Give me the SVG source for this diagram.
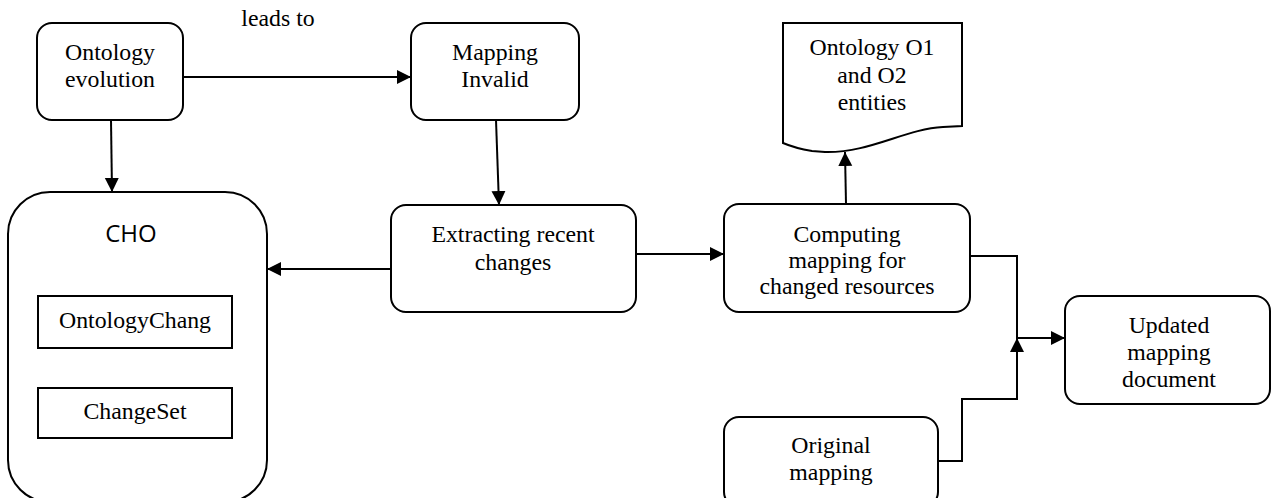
<svg xmlns="http://www.w3.org/2000/svg" width="1271" height="498" viewBox="0 0 1271 498">
<defs>
<style>
.box{fill:#fff;stroke:#000;stroke-width:2}
.t{font-family:"Liberation Serif","Times New Roman",serif;font-size:23.8px;fill:#000;text-anchor:middle}
.s{font-family:"Open Sans","Liberation Sans",sans-serif;font-size:24px;fill:#000;text-anchor:middle}
.c{fill:none;stroke:#000;stroke-width:2}
</style>
<marker id="ah" markerWidth="15" markerHeight="15" refX="14" refY="7.5" orient="auto" markerUnits="userSpaceOnUse"><path d="M0,0.5 L14,7.5 L0,14.5 z" fill="#000"/></marker>
</defs>
<rect width="1271" height="498" fill="#fff"/>

<g id="connectors">
<path class="c" d="M183,77 L411,77" marker-end="url(#ah)"/>
<path class="c" d="M111,120 L112,192" marker-end="url(#ah)"/>
<path class="c" d="M496,120 L499,205" marker-end="url(#ah)"/>
<path class="c" d="M391,269 L267,269" marker-end="url(#ah)"/>
<path class="c" d="M636,254 L724,254" marker-end="url(#ah)"/>
<path class="c" d="M846,204 L845,152" marker-end="url(#ah)"/>
<path class="c" d="M970,256 L1017,256 L1017,338 L1065,338" marker-end="url(#ah)"/>
<path class="c" d="M938,461 L962,461 L962,399 L1017,399 L1017,338" marker-end="url(#ah)"/>
</g>
<text class="t" x="278" y="26">leads to</text>

<g id="ontology-evolution">
<rect class="box" x="37" y="23" width="146" height="97" rx="15"/>
<text class="t" x="110" y="60">Ontology</text>
<text class="t" x="110" y="87">evolution</text>
</g>

<g id="mapping-invalid">
<rect class="box" x="411" y="23" width="168" height="97" rx="15"/>
<text class="t" x="495" y="60">Mapping</text>
<text class="t" x="495" y="87">Invalid</text>
</g>

<g id="ontology-entities">
<path class="box" d="M783,23 L962,23 L962,126 L943,127 C905,129 870,153 825,152 L812,151 C800,149 790,146 783,143 Z"/>
<text class="t" x="872" y="55">Ontology O1</text>
<text class="t" x="872" y="83">and O2</text>
<text class="t" x="872" y="110">entities</text>
</g>

<g id="cho">
<rect class="box" x="8" y="192" width="259" height="310" rx="42"/>
<text class="s" x="131" y="242">CHO</text>
<g id="ontologychang">
<rect class="box" x="38" y="296" width="194" height="52"/>
<text class="t" x="135" y="328">OntologyChang</text>
</g>
<g id="changeset">
<rect class="box" x="38" y="388" width="194" height="50"/>
<text class="t" x="135" y="419">ChangeSet</text>
</g>
</g>

<g id="extracting">
<rect class="box" x="391" y="205" width="245" height="107" rx="15"/>
<text class="t" x="513" y="242">Extracting recent</text>
<text class="t" x="513" y="270">changes</text>
</g>

<g id="computing">
<rect class="box" x="724" y="204" width="246" height="108" rx="15"/>
<text class="t" x="847" y="242">Computing</text>
<text class="t" x="847" y="268">mapping for</text>
<text class="t" x="847" y="294">changed resources</text>
</g>

<g id="updated">
<rect class="box" x="1065" y="296" width="205" height="108" rx="15"/>
<text class="t" x="1169" y="333">Updated</text>
<text class="t" x="1169" y="360">mapping</text>
<text class="t" x="1169" y="387">document</text>
</g>

<g id="original">
<rect class="box" x="724" y="417" width="214" height="90" rx="15"/>
<text class="t" x="831" y="453">Original</text>
<text class="t" x="831" y="480">mapping</text>
</g>
</svg>
